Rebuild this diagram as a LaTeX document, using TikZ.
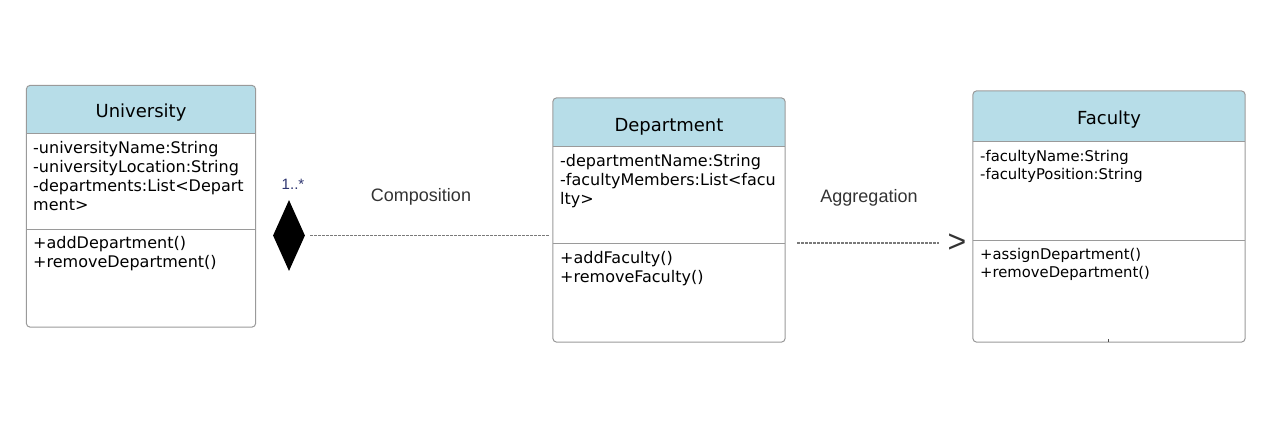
\documentclass[tikz,border=0pt]{standalone}
\usepackage{fontspec}
\setmainfont{DejaVu Sans}
\newfontfamily\arialf{Liberation Sans}
\usetikzlibrary{shapes.geometric}
\definecolor{hdr}{HTML}{B7DDE8}
\definecolor{framec}{HTML}{9A9A9A}
\definecolor{dashc}{HTML}{7A7A7A}
\definecolor{lblc}{HTML}{333333}
\definecolor{multc}{HTML}{2E3570}
\tikzset{
  frame/.style={draw=framec, line width=1pt, rounded corners=4pt},
  divider/.style={draw=framec, line width=1pt},
  ttl/.style={anchor=base, inner sep=0pt, font=\fontsize{18}{22}\selectfont, text=black},
  mem/.style={anchor=base west, inner sep=0pt, font=\fontsize{16}{19}\selectfont, text=black},
  memsm/.style={anchor=base west, inner sep=0pt, font=\fontsize{14.8}{18}\selectfont, text=black},
  lbl/.style={anchor=base, inner sep=0pt, font=\arialf\fontsize{18}{22}\selectfont, text=lblc},
  conn/.style={draw=dashc, line width=1.4pt, dash pattern=on 3pt off 1pt},
}
\begin{document}
\begin{tikzpicture}[x=1pt,y=-1pt]
\useasboundingbox[fill=white] (0,0) rectangle (1287,423);

% ---------- University ----------
\node[inner sep=0pt, minimum width=229pt, minimum height=241.5pt] (uni) at (141,206.25) {};
\begin{scope}
  \clip[rounded corners=4pt] (uni.north west) rectangle (uni.south east);
  \fill[hdr] (uni.north west) rectangle (255.5,133);
\end{scope}
\draw[frame] (uni.north west) rectangle (uni.south east);
\draw[divider] (uni.west |- 0,133) -- (uni.east |- 0,133);
\draw[divider] (uni.west |- 0,229) -- (uni.east |- 0,229);
\node[ttl] (unit) at (141,117) {University};
\node[mem] (ua1) at (33,153.5) {-universityName:String};
\node[mem] (ua2) at (33,172.5) {-universityLocation:String};
\node[mem] (ua3) at (33,191.5) {-departments:List<Depart};
\node[mem] (ua4) at (33,210.5) {ment>};
\node[mem] (um1) at (33,248.5) {+addDepartment()};
\node[mem] (um2) at (33,267.5) {+removeDepartment()};

% ---------- Department ----------
\node[inner sep=0pt, minimum width=232pt, minimum height=244pt] (dept) at (669,220) {};
\begin{scope}
  \clip[rounded corners=4pt] (dept.north west) rectangle (dept.south east);
  \fill[hdr] (dept.north west) rectangle (785,146);
\end{scope}
\draw[frame] (dept.north west) rectangle (dept.south east);
\draw[divider] (dept.west |- 0,146) -- (dept.east |- 0,146);
\draw[divider] (dept.west |- 0,243) -- (dept.east |- 0,243);
\node[ttl] (deptt) at (669,131.5) {Department};
\node[mem] (da1) at (560,166.5) {-departmentName:String};
\node[mem] (da2) at (560,185.5) {-facultyMembers:List<facu};
\node[mem] (da3) at (560,204.5) {lty>};
\node[mem] (dm1) at (560,263.5) {+addFaculty()};
\node[mem] (dm2) at (560,282.5) {+removeFaculty()};

% ---------- Faculty ----------
\node[inner sep=0pt, minimum width=272pt, minimum height=251pt] (fac) at (1109,216.5) {};
\begin{scope}
  \clip[rounded corners=4pt] (fac.north west) rectangle (fac.south east);
  \fill[hdr] (fac.north west) rectangle (1245,141);
\end{scope}
\draw[frame] (fac.north west) rectangle (fac.south east);
\draw[divider] (fac.west |- 0,141) -- (fac.east |- 0,141);
\draw[divider] (fac.west |- 0,240) -- (fac.east |- 0,240);
\node[ttl] (fact) at (1109,124.5) {Faculty};
\node[memsm] (fa1) at (980,161) {-facultyName:String};
\node[memsm] (fa2) at (980,179) {-facultyPosition:String};
\node[memsm] (fm1) at (980,259) {+assignDepartment()};
\node[memsm] (fm2) at (980,277) {+removeDepartment()};
\draw[draw=black!70, line width=1pt] (1108.5,339) -- (1108.5,342);

% ---------- Composition ----------
\node[diamond, fill=black, inner sep=0pt, minimum width=32pt, minimum height=71pt] (dia) at (289,235.5) {};
\node[anchor=base, inner sep=0pt, font=\arialf\fontsize{15}{17}\selectfont, text=multc] (mult) at (293,189.5) {1..*};
\draw[conn] ([xshift=5pt]dia.east) -- ([xshift=-4pt]dept.west |- dia.east);
\node[lbl] (comp) at (421,201) {Composition};

% ---------- Aggregation ----------
\node[inner sep=0pt, font=\arialf\fontsize{32}{36}\selectfont, text=lblc] (agg) at (957,243) {>};
\coordinate (aggstart) at ([xshift=12pt]dept.east |- agg.west);
\draw[conn] (aggstart) -- ([xshift=-8pt]agg.west);
\node[lbl] (aggl) at (869,202) {Aggregation};
\end{tikzpicture}
\end{document}
